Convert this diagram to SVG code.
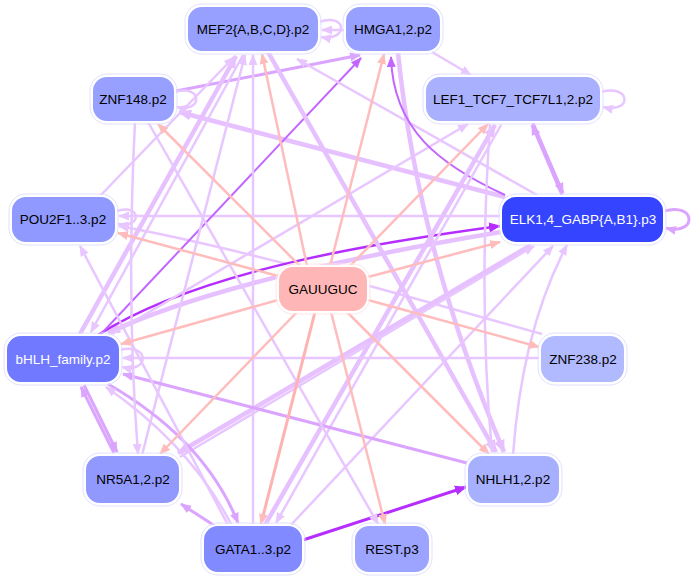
<svg xmlns="http://www.w3.org/2000/svg" width="694" height="578" viewBox="0 0 694 578">
<defs>
<marker id="mpk" markerUnits="userSpaceOnUse" markerWidth="11" markerHeight="9" viewBox="0 0 11 9" refX="10" refY="4.5" orient="auto"><path d="M0,0 L11,4.5 L0,9 z" fill="#ffbcbc"/></marker>
<marker id="mlt" markerUnits="userSpaceOnUse" markerWidth="11" markerHeight="9" viewBox="0 0 11 9" refX="10" refY="4.5" orient="auto"><path d="M0,0 L11,4.5 L0,9 z" fill="#e8c6ff"/></marker>
<marker id="mltb" markerUnits="userSpaceOnUse" markerWidth="13" markerHeight="11" viewBox="0 0 13 11" refX="12" refY="5.5" orient="auto"><path d="M0,0 L13,5.5 L0,11 z" fill="#e6c0ff"/></marker>
<marker id="mmd" markerUnits="userSpaceOnUse" markerWidth="11" markerHeight="9" viewBox="0 0 11 9" refX="10" refY="4.5" orient="auto"><path d="M0,0 L11,4.5 L0,9 z" fill="#daa4ff"/></marker>
<marker id="mdk" markerUnits="userSpaceOnUse" markerWidth="11" markerHeight="9" viewBox="0 0 11 9" refX="10" refY="4.5" orient="auto"><path d="M0,0 L11,4.5 L0,9 z" fill="#c266ff"/></marker>
<marker id="mvd" markerUnits="userSpaceOnUse" markerWidth="12" markerHeight="10" viewBox="0 0 12 10" refX="11" refY="5" orient="auto"><path d="M0,0 L12,5 L0,10 z" fill="#b52eff"/></marker>
</defs>
<style>
.n rect.b{stroke:#fff;stroke-width:2}
.n rect.o{fill:none;stroke:#e0e0ff;stroke-width:1}
.n text{font-family:"Liberation Sans",Arial,sans-serif;font-size:13.5px;text-anchor:middle;fill:#000}
.n text.w{fill:#fff}
#edges path{fill:none}
.pk{stroke:#ffbcbc;stroke-width:2.5;marker-end:url(#mpk)}
.lt{stroke:#e8c6ff;stroke-width:2.5;marker-end:url(#mlt)}
.lt4{stroke:#e6c0ff;stroke-width:4.5;marker-end:url(#mltb)}
.md{stroke:#daa4ff;stroke-width:3;marker-end:url(#mmd)}
.dk{stroke:#c266ff;stroke-width:2;marker-end:url(#mdk)}
.vd{stroke:#b52eff;stroke-width:3;marker-end:url(#mvd)}
</style>
<rect width="694" height="578" fill="#fff"/>
<g id="edges">
<path class="lt4" d="M505,197 L179,112"/>
<path class="md" d="M176,91 Q260,75 360,55"/>
<path class="lt" d="M175,92 C203,84 203,113 177,107"/>
<path class="lt" d="M319,22 C348,12 348,42 321,37"/>
<path class="lt" d="M345,30 L322,30"/>
<path class="lt" d="M601,92 C632,84 632,114 603,107"/>
<path class="md" d="M664,211 C697,202 697,236 666,228"/>
<path class="lt" d="M116,211 C142,203 142,229 118,224"/>
<path class="lt" d="M120,350 C150,342 150,374 122,367"/>
<path class="lt" d="M501,216 L119,216"/>
<path class="lt" d="M542,334 C420,300 250,250 119,226"/>
<path class="lt4" d="M501,232 C380,252 210,285 108,333"/>
<path class="vd" d="M98,335 C200,270 380,242 500,226" style="stroke-width:2.5"/>
<path class="lt4" d="M80,334 L236,56"/>
<path class="lt" d="M243,55 L91,332"/>
<path class="dk" d="M101,334 L361,58"/>
<path class="lt" d="M112,334 L468,124"/>
<path class="lt" d="M253,525 L253,55"/>
<path class="lt" d="M142,455 L245,55"/>
<path class="lt" d="M100,196 L234,57"/>
<path class="lt" d="M537,195 L297,59"/>
<path class="lt4" d="M268,52 L496,452"/>
<path class="lt4" d="M398,53 Q418,250 504,452"/>
<path class="dk" d="M505,195 C440,165 393,130 391,57"/>
<path class="lt" d="M432,52 L471,75"/>
<path class="md" d="M533,123 L563,193"/>
<path class="md" d="M562,195 L532,125"/>
<path class="lt4" d="M265,525 L495,125"/>
<path class="lt" d="M501,125 L276,523"/>
<path class="lt" d="M490,124 Q478,300 492,452"/>
<path class="lt4" d="M531,245 L178,453"/>
<path class="lt" d="M180,457 L534,246"/>
<path class="lt" d="M513,455 Q522,330 567,245"/>
<path class="lt" d="M290,526 L553,246"/>
<path class="lt" d="M540,358 L123,358"/>
<path class="md" d="M467,463 L123,374"/>
<path class="vd" d="M303,540 L466,487"/>
<path class="md" d="M215,526 L181,504"/>
<path class="md" d="M84,385 L117,452"/>
<path class="md" d="M114,453 L81,387"/>
<path class="md" d="M108,384 Q205,440 238,523"/>
<path class="lt" d="M231,524 Q190,445 106,387"/>
<path class="lt" d="M228,525 L80,246"/>
<path class="lt" d="M148,122 L378,524"/>
<path class="lt" d="M135,122 Q126,300 138,454"/>
<path class="pk" d="M300,266 L158,124"/>
<path class="pk" d="M307,266 L262,54"/>
<path class="pk" d="M330,266 L384,54"/>
<path class="pk" d="M350,266 L488,124"/>
<path class="pk" d="M278,276 L118,233"/>
<path class="pk" d="M368,277 L500,242"/>
<path class="pk" d="M278,300 L121,344"/>
<path class="pk" d="M368,300 L539,347"/>
<path class="pk" d="M297,312 L160,454"/>
<path class="pk" d="M315,312 L261,524" style="stroke:#ffb2b2;stroke-width:3"/>
<path class="pk" d="M331,312 L385,524"/>
<path class="pk" d="M347,312 L489,454"/>
</g>
<g id="n-mef2" class="n"><rect class="o" x="185" y="4" width="136" height="50" rx="17"/><rect class="b" x="187" y="6" width="132" height="46" rx="15" fill="#97a0ff"/><text x="253" y="34">MEF2{A,B,C,D}.p2</text></g>
<g id="n-hmga" class="n"><rect class="o" x="343" y="4" width="100" height="50" rx="17"/><rect class="b" x="345" y="6" width="96" height="46" rx="15" fill="#98a0ff"/><text x="393" y="34">HMGA1,2.p2</text></g>
<g id="n-znf148" class="n"><rect class="o" x="90" y="74" width="87" height="50" rx="17"/><rect class="b" x="92" y="76" width="83" height="46" rx="15" fill="#98a0ff"/><text x="133" y="104">ZNF148.p2</text></g>
<g id="n-lef1" class="n"><rect class="o" x="423" y="74" width="180" height="50" rx="17"/><rect class="b" x="425" y="76" width="176" height="46" rx="15" fill="#a9b1ff"/><text x="513" y="104">LEF1_TCF7_TCF7L1,2.p2</text></g>
<g id="n-pou2f" class="n"><rect class="o" x="9" y="194" width="109" height="51" rx="17"/><rect class="b" x="11" y="196" width="105" height="47" rx="15" fill="#8f99ff"/><text x="63" y="224">POU2F1..3.p2</text></g>
<g id="n-elk1" class="n"><rect class="o" x="499" y="194" width="167" height="51" rx="17"/><rect class="b" x="501" y="196" width="163" height="47" rx="15" fill="#3444ff"/><text class="w" x="583" y="224">ELK1,4_GABP{A,B1}.p3</text></g>
<g id="n-gauuguc" class="n"><rect class="o" x="276" y="264" width="94" height="50" rx="17" style="stroke:#ffe6e6"/><rect class="b" x="278" y="266" width="90" height="46" rx="15" fill="#ffb6b6"/><text x="323" y="294">GAUUGUC</text></g>
<g id="n-bhlh" class="n"><rect class="o" x="4" y="333" width="118" height="52" rx="17"/><rect class="b" x="6" y="335" width="114" height="48" rx="15" fill="#7079ff"/><text class="w" x="63" y="364">bHLH_family.p2</text></g>
<g id="n-znf238" class="n"><rect class="o" x="538" y="333" width="89" height="52" rx="17"/><rect class="b" x="540" y="335" width="85" height="48" rx="15" fill="#b1b9ff"/><text x="583" y="364">ZNF238.p2</text></g>
<g id="n-nr5a1" class="n"><rect class="o" x="83" y="453" width="99" height="53" rx="17"/><rect class="b" x="85" y="455" width="95" height="49" rx="15" fill="#9199ff"/><text x="133" y="484">NR5A1,2.p2</text></g>
<g id="n-nhlh" class="n"><rect class="o" x="465" y="453" width="97" height="53" rx="17"/><rect class="b" x="467" y="455" width="93" height="49" rx="15" fill="#a7afff"/><text x="513" y="484">NHLH1,2.p2</text></g>
<g id="n-gata" class="n"><rect class="o" x="201" y="523" width="104" height="52" rx="17"/><rect class="b" x="203" y="525" width="100" height="48" rx="15" fill="#828aff"/><text x="253" y="554">GATA1..3.p2</text></g>
<g id="n-rest" class="n"><rect class="o" x="352" y="523" width="80" height="52" rx="17"/><rect class="b" x="354" y="525" width="76" height="48" rx="15" fill="#9ca4ff"/><text x="392" y="554">REST.p3</text></g>
</svg>
